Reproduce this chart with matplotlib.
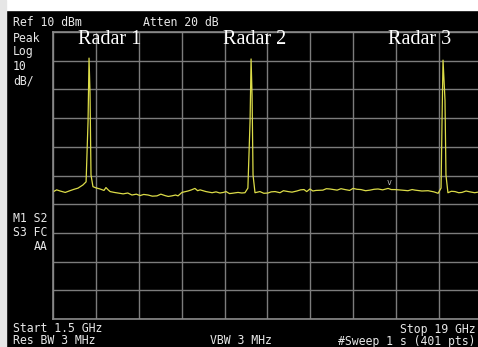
import matplotlib.pyplot as plt
from matplotlib.patches import Rectangle

W, H = 478, 347

# trace (GHz, dBm)
freq = [1.50, 1.65, 1.79, 2.00, 2.19, 2.36, 2.52, 2.72, 2.85, 2.93, 2.97, 3.01, 3.05, 3.13,
        3.25, 3.42, 3.58, 3.66, 3.75, 3.83, 4.00, 4.15, 4.36, 4.55, 4.72, 4.90, 5.05, 5.20,
        5.38, 5.55, 5.74, 5.90, 6.07, 6.20, 6.35, 6.50, 6.60, 6.76, 7.01, 7.15, 7.29,
        7.40, 7.50, 7.74, 7.99, 8.15, 8.31, 8.45, 8.56, 8.70, 8.80, 9.05, 9.20, 9.33,
        9.45, 9.54, 9.58, 9.62, 9.66, 9.74, 9.94, 10.10, 10.27, 10.40, 10.56, 10.76,
        10.90, 11.09, 11.25, 11.45, 11.60, 11.74, 11.85, 11.98, 12.10, 12.23, 12.51, 12.65,
        12.80, 13.09, 13.25, 13.41, 13.60, 13.74, 13.90, 14.06, 14.25, 14.43, 14.60,
        14.76, 14.95, 15.17, 15.30, 15.45, 15.74, 15.98, 16.15, 16.27, 16.55, 16.80,
        17.04, 17.21, 17.33, 17.37, 17.41, 17.49, 17.53, 17.61, 17.75, 17.90, 18.05,
        18.18, 18.35, 18.51, 18.70, 18.84, 19.00]
level = [-45.7, -45.0, -45.4, -45.9, -45.3, -44.8, -44.4, -43.3, -42.2, -21.0, 0.9, -11.3, -39.8, -43.9,
         -44.3, -44.7, -45.2, -44.2, -45.0, -45.6, -45.9, -46.1, -46.4, -46.1, -46.8, -46.5, -47.0, -46.6,
         -46.8, -47.2, -47.1, -46.5, -47.0, -47.3, -47.1, -46.8, -47.1, -45.9, -45.4, -45.0, -44.5,
         -45.3, -45.0, -45.6, -46.0, -45.7, -46.1, -45.9, -45.6, -46.3, -46.2, -45.9, -46.1, -46.0,
         -44.4, -20.7, 0.6, -12.0, -39.8, -46.0, -45.6, -46.2, -46.1, -45.7, -45.6, -46.0,
         -45.3, -45.6, -45.8, -45.4, -45.0, -44.9, -45.6, -44.7, -45.4, -45.2, -45.1, -44.6,
         -44.7, -45.1, -44.6, -44.9, -45.2, -44.5, -44.8, -44.9, -45.3, -45.1, -44.8,
         -44.7, -45.0, -44.5, -44.9, -44.9, -45.1, -45.3, -44.9, -45.1, -45.4, -45.3,
         -45.7, -46.2, -44.4, -20.7, 0.2, -13.7, -39.8, -46.0, -45.5, -45.6, -46.0,
         -45.9, -45.4, -45.7, -46.0, -45.8, -45.8]

marker_f, marker_db = 15.21, -42.3
radars = ["Radar 1", "Radar 2", "Radar 3"]
radar_x = [110, 255, 420]

fig = plt.figure(figsize=(W / 100, H / 100), dpi=100, facecolor="black")

# white strips of the screenshot border
fig.patches.append(Rectangle((0, 1 - 10 / H), 1, 10 / H, transform=fig.transFigure,
                             color="white", zorder=0))
fig.patches.append(Rectangle((0, 0), 6 / W, 1, transform=fig.transFigure,
                             color="#e6e6e6", zorder=0))

ax = fig.add_axes([53 / W, 28 / H, 429 / W, 287 / H], facecolor="black")
ax.set_xlim(1.5, 19)
ax.set_ylim(-90, 10)
ax.set_xticks([1.5 + i * 1.75 for i in range(11)])
ax.set_yticks(list(range(-90, 11, 10)))
ax.tick_params(length=0, labelbottom=False, labelleft=False)
ax.grid(True, color="#7c7c7c", linewidth=1.0)
for s in ax.spines.values():
    s.set_color("#8a8a8a")
    s.set_linewidth(1.2)

ax.plot(freq, level, color="#dcdc48", linewidth=0.9)
ax.text(marker_f, marker_db, "v", color="#bbbbbb", fontsize=6, ha="center", va="center",
        family="DejaVu Sans Mono")


def ftext(x, y, s, **kw):
    kw.setdefault("family", "DejaVu Sans Mono")
    kw.setdefault("fontsize", 8.3)
    kw.setdefault("color", "#e8e8e8")
    fig.text(x / W, 1 - y / H, s, va="center", **kw)


ftext(13, 23, "Ref 10 dBm")
ftext(143, 23, "Atten 20 dB")
ftext(13, 38, "Peak")
ftext(13, 52, "Log")
ftext(13, 66, "10")
ftext(13, 81, "dB/")
ftext(13, 218, "M1 S2")
ftext(13, 232, "S3 FC")
ftext(48, 246, "AA", ha="right")
ftext(13, 329, "Start 1.5 GHz")
ftext(476, 329, "Stop 19 GHz", ha="right")
ftext(13, 341, "Res BW 3 MHz")
ftext(210, 341, "VBW 3 MHz")
ftext(476, 341, "#Sweep 1 s (401 pts)", ha="right")

for name, x in zip(radars, radar_x):
    fig.text(x / W, 1 - 40 / H, name, ha="center", va="center", family="Liberation Serif",
             fontsize=14.5, color="white")

fig.savefig("out.png", dpi=100, facecolor="black")
